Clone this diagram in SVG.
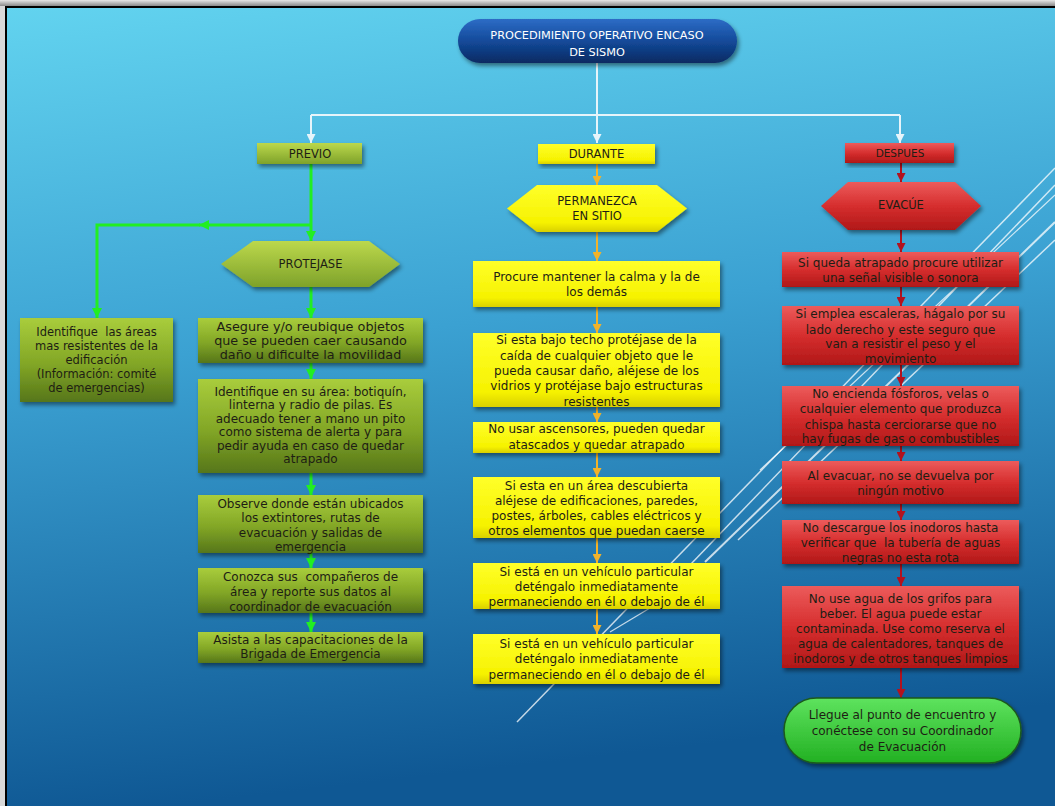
<svg xmlns="http://www.w3.org/2000/svg" width="1055" height="806" viewBox="0 0 1055 806">
<defs>
<linearGradient id="bg" x1="0" y1="0" x2="0.15" y2="1">
<stop offset="0" stop-color="#62d3ef"/>
<stop offset="0.45" stop-color="#3ba1d2"/>
<stop offset="1" stop-color="#0f5894"/>
</linearGradient>
<linearGradient id="topband" x1="0" y1="0" x2="0" y2="1">
<stop offset="0" stop-color="#e6e6e6"/>
<stop offset="1" stop-color="#8a8a8a"/>
</linearGradient>
<linearGradient id="gTitle" x1="0" y1="0" x2="0" y2="1">
<stop offset="0" stop-color="#2d6cc6"/>
<stop offset="0.5" stop-color="#134a9a"/>
<stop offset="1" stop-color="#0a2a62"/>
</linearGradient>
<linearGradient id="gGreen" x1="0" y1="0" x2="0" y2="1">
<stop offset="0" stop-color="#a9cd3c"/>
<stop offset="0.55" stop-color="#82a626"/>
<stop offset="1" stop-color="#56761a"/>
</linearGradient>
<linearGradient id="gGreenH" x1="0" y1="0" x2="0" y2="1">
<stop offset="0" stop-color="#bcd84c"/>
<stop offset="1" stop-color="#7ea22a"/>
</linearGradient>
<linearGradient id="gYellow" x1="0" y1="0" x2="0" y2="1">
<stop offset="0" stop-color="#ffff2a"/>
<stop offset="0.8" stop-color="#f6f200"/>
<stop offset="1" stop-color="#d9d000"/>
</linearGradient>
<linearGradient id="gRed" x1="0" y1="0" x2="0" y2="1">
<stop offset="0" stop-color="#ec5b5b"/>
<stop offset="0.5" stop-color="#d62e2e"/>
<stop offset="1" stop-color="#b01818"/>
</linearGradient>
<linearGradient id="gTerm" x1="0" y1="0" x2="0" y2="1">
<stop offset="0" stop-color="#5ee35e"/>
<stop offset="1" stop-color="#22b022"/>
</linearGradient>
<filter id="sh" x="-10%" y="-10%" width="125%" height="135%">
<feDropShadow dx="2" dy="3" stdDeviation="2" flood-color="#000" flood-opacity="0.45"/>
</filter>
<marker id="aW" viewBox="0 0 10 10" refX="10" refY="5" markerWidth="9" markerHeight="9" markerUnits="userSpaceOnUse" orient="auto"><path d="M0,0 L10,5 L0,10 z" fill="#e6f4fa"/></marker>
<marker id="aG" viewBox="0 0 10 10" refX="10" refY="5" markerWidth="10" markerHeight="10" markerUnits="userSpaceOnUse" orient="auto"><path d="M0,0 L10,5 L0,10 z" fill="#22ee22"/></marker>
<marker id="aY" viewBox="0 0 10 10" refX="10" refY="5" markerWidth="9" markerHeight="9" markerUnits="userSpaceOnUse" orient="auto"><path d="M0,0 L10,5 L0,10 z" fill="#f2b32a"/></marker>
<marker id="aR" viewBox="0 0 10 10" refX="10" refY="5" markerWidth="9" markerHeight="9" markerUnits="userSpaceOnUse" orient="auto"><path d="M0,0 L10,5 L0,10 z" fill="#b3121e"/></marker>
<style>
text{font-family:"DejaVu Sans","Liberation Sans",sans-serif;font-size:12px;fill:#1e1e14;text-anchor:middle;white-space:pre}
.t{fill:#ffffff;font-size:11.3px}
.h{font-size:11.5px}
.cw{fill:none;stroke:#e6f4fa;stroke-width:2}
.cg{fill:none;stroke:#22ee22;stroke-width:3}
.cy{fill:none;stroke:#f2b32a;stroke-width:2}
.cr{fill:none;stroke:#b3121e;stroke-width:2}
.gb{fill:url(#gGreen);filter:url(#sh)}
.yb{fill:url(#gYellow);filter:url(#sh)}
.rb{fill:url(#gRed);filter:url(#sh)}
.deco{stroke:#ffffff;stroke-opacity:0.75;fill:none}
</style>
</defs>

<!-- frame & background -->
<rect x="0" y="0" width="1055" height="806" fill="#d9d9d9"/>
<rect x="0" y="0" width="1055" height="6" fill="url(#topband)"/>
<rect x="5" y="6" width="1050" height="800" fill="#000"/>
<rect x="7" y="8" width="1048" height="798" fill="url(#bg)"/>

<!-- decorative lines -->
<g class="deco">
<line x1="517" y1="722" x2="1055" y2="168" stroke-width="1.5"/>
<line x1="690" y1="565" x2="1055" y2="185" stroke-width="1.5"/>
<line x1="705" y1="562" x2="1055" y2="222" stroke-width="2"/>
<line x1="738" y1="540" x2="1055" y2="240" stroke-width="1.5"/>
<line x1="760" y1="470" x2="1055" y2="195" stroke-width="1.2"/>
<line x1="610" y1="632" x2="700" y2="578" stroke-width="1.2"/>
</g>

<!-- connectors -->
<g id="connectors">
<path class="cw" d="M597,63 V143" marker-end="url(#aW)"/>
<path class="cw" d="M311,115 H900"/>
<path class="cw" d="M311,115 V143" marker-end="url(#aW)"/>
<path class="cw" d="M900,115 V143" marker-end="url(#aW)"/>

<path class="cg" d="M311,164 V241" marker-end="url(#aG)"/>
<path class="cg" d="M311,225 H199" marker-end="url(#aG)"/>
<path class="cg" d="M200,225 H97 V318" marker-end="url(#aG)"/>
<path class="cg" d="M311,287 V318" marker-end="url(#aG)"/>
<path class="cg" d="M311,363 V379" marker-end="url(#aG)"/>
<path class="cg" d="M311,473 V495" marker-end="url(#aG)"/>
<path class="cg" d="M311,553 V568" marker-end="url(#aG)"/>
<path class="cg" d="M311,613 V632" marker-end="url(#aG)"/>

<path class="cy" d="M597,164 V185" marker-end="url(#aY)"/>
<path class="cy" d="M597,232 V261" marker-end="url(#aY)"/>
<path class="cy" d="M597,307 V333" marker-end="url(#aY)"/>
<path class="cy" d="M597,407 V422" marker-end="url(#aY)"/>
<path class="cy" d="M597,453 V477" marker-end="url(#aY)"/>
<path class="cy" d="M597,538 V563" marker-end="url(#aY)"/>
<path class="cy" d="M597,609 V634" marker-end="url(#aY)"/>

<path class="cr" d="M901,163 V182" marker-end="url(#aR)"/>
<path class="cr" d="M901,230 V252" marker-end="url(#aR)"/>
<path class="cr" d="M901,287 V306" marker-end="url(#aR)"/>
<path class="cr" d="M901,365 V386" marker-end="url(#aR)"/>
<path class="cr" d="M901,446 V461" marker-end="url(#aR)"/>
<path class="cr" d="M901,504 V520" marker-end="url(#aR)"/>
<path class="cr" d="M901,564 V586" marker-end="url(#aR)"/>
<path class="cr" d="M901,668 V698" marker-end="url(#aR)"/>
</g>

<!-- title -->
<g id="title">
<rect x="458" y="19" width="279" height="44" rx="22" fill="url(#gTitle)" filter="url(#sh)"/>
<text class="t" x="597" y="39">PROCEDIMIENTO OPERATIVO ENCASO</text>
<text class="t" x="597" y="56">DE SISMO</text>
</g>

<!-- PREVIO column -->
<g id="previo">
<rect x="257" y="143" width="105" height="21" fill="url(#gGreenH)" filter="url(#sh)"/>
<text class="h" x="310" y="158">PREVIO</text>
</g>
<g id="protejase">
<polygon points="221,264 253,241 369,241 400,264 369,287 253,287" fill="url(#gGreenH)" filter="url(#sh)"/>
<text class="h" x="310.5" y="268">PROTEJASE</text>
</g>
<g id="p-areas">
<rect x="20" y="318" width="153" height="84" class="gb"/>
<text style="font-size:11.5px" x="96.5" y="336" xml:space="preserve">Identifique  las áreas</text>
<text style="font-size:11.5px" x="96.5" y="350">mas resistentes de la</text>
<text style="font-size:11.5px" x="96.5" y="364">edificación</text>
<text style="font-size:11.5px" x="96.5" y="378">(Información: comité</text>
<text style="font-size:11.5px" x="96.5" y="392">de emergencias)</text>
</g>
<g id="p1">
<rect x="198" y="318" width="225" height="45" class="gb"/>
<text style="font-size:12.8px" x="310.5" y="331">Asegure y/o reubique objetos</text>
<text style="font-size:12.8px" x="310.5" y="345">que se pueden caer causando</text>
<text style="font-size:12.8px" x="310.5" y="359">daño u dificulte la movilidad</text>
</g>
<g id="p2">
<rect x="198" y="379" width="225" height="94" class="gb"/>
<text x="310.5" y="396">Identifique en su área: botiquín,</text>
<text x="310.5" y="409.4">linterna y radio de pilas. Es</text>
<text x="310.5" y="422.8">adecuado tener a mano un pito</text>
<text x="310.5" y="436.2">como sistema de alerta y para</text>
<text x="310.5" y="449.6">pedir ayuda en caso de quedar</text>
<text x="310.5" y="463">atrapado</text>
</g>
<g id="p3">
<rect x="198" y="495" width="225" height="58" class="gb"/>
<text x="310.5" y="507.5">Observe donde están ubicados</text>
<text x="310.5" y="522">los extintores, rutas de</text>
<text x="310.5" y="536.5">evacuación y salidas de</text>
<text x="310.5" y="551">emergencia</text>
</g>
<g id="p4">
<rect x="198" y="568" width="225" height="45" class="gb"/>
<text x="310.5" y="581" xml:space="preserve">Conozca sus  compañeros de</text>
<text x="310.5" y="596">área y reporte sus datos al</text>
<text x="310.5" y="611">coordinador de evacuación</text>
</g>
<g id="p5">
<rect x="198" y="632" width="225" height="31" class="gb"/>
<text x="310.5" y="643.5">Asista a las capacitaciones de la</text>
<text x="310.5" y="658">Brigada de Emergencia</text>
</g>

<!-- DURANTE column -->
<g id="durante">
<rect x="538" y="144" width="117" height="20" class="yb"/>
<text class="h" x="596.5" y="158">DURANTE</text>
</g>
<g id="permanezca">
<polygon points="507,208.5 537,185 657,185 687,208.5 657,232 537,232" class="yb"/>
<text class="h" x="597" y="205">PERMANEZCA</text>
<text class="h" x="597" y="220">EN SITIO</text>
</g>
<g id="d1">
<rect x="473" y="261" width="247" height="46" class="yb"/>
<text x="596.5" y="280.5">Procure mantener la calma y la de</text>
<text x="596.5" y="296">los demás</text>
</g>
<g id="d2">
<rect x="473" y="333" width="247" height="74" class="yb"/>
<text x="596.5" y="344.3">Si esta bajo techo protéjase de la</text>
<text x="596.5" y="359.6">caída de cualquier objeto que le</text>
<text x="596.5" y="374.9">pueda causar daño, aléjese de los</text>
<text x="596.5" y="390.2">vidrios y protéjase bajo estructuras</text>
<text x="596.5" y="405.5">resistentes</text>
</g>
<g id="d3">
<rect x="473" y="422" width="247" height="31" class="yb"/>
<text x="596.5" y="433.3">No usar ascensores, pueden quedar</text>
<text x="596.5" y="449.3">atascados y quedar atrapado</text>
</g>
<g id="d4">
<rect x="473" y="477" width="247" height="61" class="yb"/>
<text x="596.5" y="490">Si esta en un área descubierta</text>
<text x="596.5" y="505.3">aléjese de edificaciones, paredes,</text>
<text x="596.5" y="520">postes, árboles, cables eléctricos y</text>
<text x="596.5" y="535">otros elementos que puedan caerse</text>
</g>
<g id="d5">
<rect x="473" y="563" width="247" height="46" class="yb"/>
<text x="596.5" y="576">Si está en un vehículo particular</text>
<text x="596.5" y="590.5">deténgalo inmediatamente</text>
<text x="596.5" y="605.8">permaneciendo en él o debajo de él</text>
</g>
<g id="d6">
<rect x="473" y="634" width="247" height="50" class="yb"/>
<text x="596.5" y="648">Si está en un vehículo particular</text>
<text x="596.5" y="663.4">deténgalo inmediatamente</text>
<text x="596.5" y="678.7">permaneciendo en él o debajo de él</text>
</g>

<!-- DESPUES column -->
<g id="despues">
<rect x="845" y="143" width="109" height="20" class="rb"/>
<text class="h" style="font-size:10.5px" x="900" y="157">DESPUES</text>
</g>
<g id="evacue">
<polygon points="821,206 848,182 955,182 981,206 955,230 848,230" class="rb"/>
<text class="h" x="901" y="209">EVACÚE</text>
</g>
<g id="r1">
<rect x="782" y="252" width="237" height="35" class="rb"/>
<text x="900.5" y="267">Si queda atrapado procure utilizar</text>
<text x="900.5" y="282">una señal visible o sonora</text>
</g>
<g id="r2">
<rect x="782" y="306" width="237" height="59" class="rb"/>
<text x="900.5" y="318">Si emplea escaleras, hágalo por su</text>
<text x="900.5" y="333.5">lado derecho y este seguro que</text>
<text x="900.5" y="348">van a resistir el peso y el</text>
<text x="900.5" y="363.4">movimiento</text>
</g>
<g id="r3">
<rect x="782" y="386" width="237" height="60" class="rb"/>
<text x="900.5" y="398">No encienda fósforos, velas o</text>
<text x="900.5" y="413.3">cualquier elemento que produzca</text>
<text x="900.5" y="428.6">chispa hasta cerciorarse que no</text>
<text x="900.5" y="443.2">hay fugas de gas o combustibles</text>
</g>
<g id="r4">
<rect x="782" y="461" width="237" height="43" class="rb"/>
<text x="900.5" y="480.4">Al evacuar, no se devuelva por</text>
<text x="900.5" y="495.4">ningún motivo</text>
</g>
<g id="r5">
<rect x="782" y="520" width="237" height="44" class="rb"/>
<text x="900.5" y="531.8">No descargue los inodoros hasta</text>
<text x="900.5" y="547.1" xml:space="preserve">verificar que  la tubería de aguas</text>
<text x="900.5" y="561.7">negras no esta rota</text>
</g>
<g id="r6">
<rect x="782" y="586" width="237" height="82" class="rb"/>
<text x="900.5" y="602.8">No use agua de los grifos para</text>
<text x="900.5" y="618.1">beber. El agua puede estar</text>
<text x="900.5" y="633.4">contaminada. Use como reserva el</text>
<text x="900.5" y="648">agua de calentadores, tanques de</text>
<text x="900.5" y="663.4">inodoros y de otros tanques limpios</text>
</g>
<g id="final">
<rect x="784" y="698" width="237" height="65" rx="32.5" fill="url(#gTerm)" stroke="#1d5a1d" stroke-width="1.5" filter="url(#sh)"/>
<text x="902.5" y="719">Llegue al punto de encuentro y</text>
<text x="902.5" y="735">conéctese con su Coordinador</text>
<text x="902.5" y="751">de Evacuación</text>
</g>
</svg>
